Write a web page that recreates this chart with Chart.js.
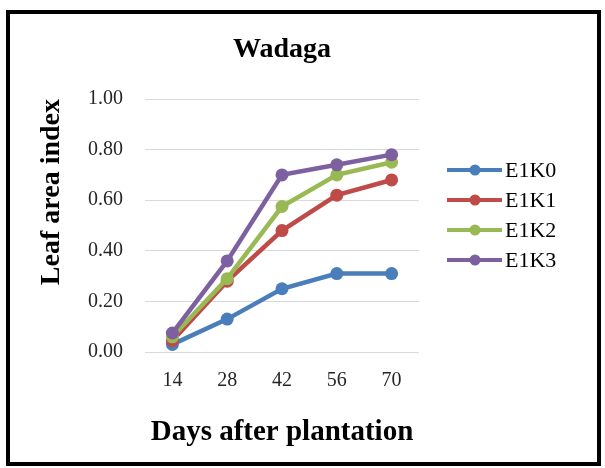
<!DOCTYPE html>
<html>
<head>
<meta charset="utf-8">
<script src="https://cdn.jsdelivr.net/npm/chart.js@4.4.1/dist/chart.umd.min.js"></script>
<style>
  html, body { margin: 0; padding: 0; background: #fff; }
  #frame {
    position: absolute; left: 6px; top: 10px;
    width: 595px; height: 456px;
    box-sizing: border-box; border: 4px solid #000; background: #fff;
  }
  #wrap { position: relative; width: 587px; height: 448px; }
</style>
</head>
<body>
<div id="frame"><div id="wrap"><canvas id="laiChart"></canvas></div></div>
<script>
// Leaf area index, Wadaga site
const days = ["14", "28", "42", "56", "70"]
const e1k0 = [0.03, 0.13, 0.25, 0.31, 0.31]
const e1k1 = [0.045, 0.28, 0.48, 0.62, 0.68]
const e1k2 = [0.06, 0.29, 0.575, 0.70, 0.75]
const e1k3 = [0.075, 0.36, 0.70, 0.74, 0.78]
const seriesNames = ["E1K0", "E1K1", "E1K2", "E1K3"]
const yTicks = [0, 0.2, 0.4, 0.6, 0.8, 1.0]

const colors = ["#4A7EBB", "#BE4B48", "#98B954", "#7D60A0"]
const serif = "'Liberation Serif', 'Times New Roman', serif"

function makeSet(i, values) {
  return {
    label: seriesNames[i],
    data: values,
    borderColor: colors[i],
    backgroundColor: colors[i],
    borderWidth: 4.5,
    pointRadius: 6.5,
    pointBorderWidth: 0,
    pointBackgroundColor: colors[i],
    tension: 0,
    order: 3 - i, // later series drawn on top
  }
}

// legend on the right: line + marker + name
const sideLegend = {
  id: "sideLegend",
  afterDraw(chart) {
    const ctx = chart.ctx
    ctx.save()
    chart.data.datasets.forEach((ds, i) => {
      const y = 156 + i * 30
      ctx.strokeStyle = ds.borderColor
      ctx.lineWidth = 4
      ctx.beginPath()
      ctx.moveTo(437, y)
      ctx.lineTo(492, y)
      ctx.stroke()
      ctx.fillStyle = ds.borderColor
      ctx.beginPath()
      ctx.arc(465, y, 5.5, 0, Math.PI * 2)
      ctx.fill()
      ctx.fillStyle = "#000"
      ctx.font = "22px " + serif
      ctx.textAlign = "left"
      ctx.textBaseline = "middle"
      ctx.fillText(ds.label, 495, y + 1)
    })
    ctx.restore()
  },
}

const ctx = document.getElementById("laiChart").getContext("2d")
new Chart(ctx, {
  type: "line",
  data: {
    labels: days,
    datasets: [makeSet(0, e1k0), makeSet(1, e1k1), makeSet(2, e1k2), makeSet(3, e1k3)],
  },
  options: {
    responsive: true,
    maintainAspectRatio: false,
    animation: false,
    layout: { padding: { left: 0, right: 178, top: 0, bottom: 0 } },
    plugins: {
      legend: { display: false },
      tooltip: { enabled: false },
      title: {
        display: true,
        text: "Wadaga",
        fullSize: false,
        color: "#000",
        font: { family: serif, size: 28, weight: "bold", lineHeight: 1 },
        padding: { top: 22, bottom: 35 },
      },
    },
    scales: {
      x: {
        offset: true,
        grid: { display: false, drawTicks: false },
        border: { display: false },
        ticks: {
          color: "#262626",
          padding: 17,
          font: { family: serif, size: 20 },
        },
        title: {
          display: true,
          text: "Days after plantation",
          color: "#000",
          font: { family: serif, size: 29, weight: "bold", lineHeight: 1 },
          padding: { top: 0, bottom: 15 },
        },
        afterFit(scale) { scale.height = 110 },
      },
      y: {
        min: 0,
        max: 1,
        afterBuildTicks(scale) { scale.ticks = yTicks.map((v) => ({ value: v })) },
        grid: { color: "#D9D9D9", lineWidth: 1, drawTicks: false },
        border: { display: false },
        ticks: {
          color: "#262626",
          padding: 22,
          font: { family: serif, size: 20 },
          callback: (v) => Number(v).toFixed(2),
        },
        title: {
          display: true,
          text: "Leaf area index",
          align: "end",
          color: "#000",
          font: { family: serif, size: 28, weight: "bold", lineHeight: 1 },
          padding: { top: 28, bottom: 0 },
        },
        afterFit(scale) { scale.width = 135 },
      },
    },
  },
  plugins: [sideLegend],
})
</script>
</body>
</html>
